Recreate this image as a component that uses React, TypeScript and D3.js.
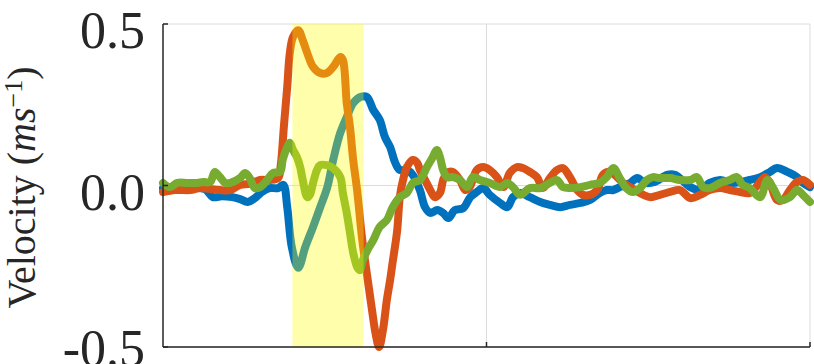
import { useMemo } from "react"
import { scaleLinear, line, curveCatmullRom } from "d3"

// time axis (arbitrary units) and velocity for each of the three traces
const blueT = [0, 1.9, 4.2, 6.5, 7.7, 9.1, 10.7, 11.9, 13.1, 14.2, 15.3, 16.5, 17.8, 18.6, 19.2, 19.9, 20.9, 22.0, 23.2, 24.3, 25.4, 26.3, 27.4, 28.4, 29.4, 30.5, 31.5, 32.5, 33.5, 34.3, 35.1, 35.9, 36.6, 37.7, 38.6, 39.7, 40.5, 41.3, 42.4, 43.3, 44.1, 45.1, 46.4, 47.5, 48.5, 49.5, 50.5, 52.1, 53.2, 54.1, 55.2, 56.7, 58.3, 59.8, 61.4, 62.9, 64.5, 66.0, 67.5, 68.6, 69.6, 70.6, 72.2, 73.3, 74.5, 76.0, 77.9, 79.1, 81.5, 83.0, 84.5, 86.1, 88.1, 90.7, 92.3, 93.8, 94.9, 96.5, 98.0, 98.9, 100]
const blueV = [-0.008, -0.011, -0.008, -0.011, -0.036, -0.033, -0.036, -0.042, -0.051, -0.039, -0.020, -0.008, -0.008, 0.002, -0.067, -0.190, -0.255, -0.190, -0.128, -0.067, -0.005, 0.079, 0.163, 0.212, 0.255, 0.274, 0.274, 0.234, 0.203, 0.150, 0.119, 0.070, 0.048, 0.048, 0.033, -0.014, -0.067, -0.085, -0.076, -0.085, -0.101, -0.076, -0.070, -0.036, -0.020, -0.008, -0.029, -0.054, -0.067, -0.036, -0.023, -0.036, -0.051, -0.060, -0.067, -0.060, -0.054, -0.045, -0.023, -0.014, -0.014, -0.005, 0.008, 0.023, 0.008, 0.011, 0.033, 0.033, -0.005, -0.014, 0.008, 0.017, 0.008, 0.017, 0.026, 0.042, 0.054, 0.042, 0.026, 0.008, -0.005]

const orangeT = [0, 1.9, 4.2, 5.7, 7.3, 8.8, 10.4, 11.9, 13.4, 15.0, 16.5, 17.8, 18.2, 18.7, 19.2, 19.6, 20.1, 20.9, 21.6, 22.3, 23.2, 24.3, 25.3, 26.3, 27.4, 27.8, 28.4, 28.9, 29.4, 30.0, 30.8, 31.6, 32.3, 32.9, 33.4, 34.0, 34.6, 35.1, 35.5, 36.2, 36.6, 37.1, 37.7, 38.6, 39.3, 39.7, 40.5, 41.3, 42.0, 42.8, 43.3, 43.9, 44.8, 45.9, 46.7, 47.4, 48.5, 49.5, 50.5, 51.6, 52.6, 53.6, 54.7, 55.6, 56.7, 57.8, 58.7, 59.8, 60.9, 61.8, 62.9, 64.0, 64.9, 66.0, 67.1, 68.0, 69.1, 70.2, 71.1, 72.2, 73.7, 75.3, 76.8, 78.4, 79.9, 81.5, 83.0, 84.5, 86.1, 87.6, 89.2, 90.7, 92.3, 93.0, 93.8, 94.9, 95.8, 96.9, 98.0, 98.9, 100]
const orangeV = [-0.020, -0.014, -0.014, -0.008, -0.011, -0.014, -0.014, 0.002, 0.005, 0.017, 0.017, 0.023, 0.063, 0.187, 0.305, 0.410, 0.460, 0.481, 0.450, 0.410, 0.367, 0.348, 0.348, 0.367, 0.398, 0.389, 0.255, 0.181, 0.079, -0.014, -0.169, -0.286, -0.385, -0.463, -0.500, -0.447, -0.354, -0.293, -0.237, -0.138, -0.036, 0.017, 0.057, 0.079, 0.070, 0.048, 0.017, -0.014, -0.036, -0.023, 0.017, 0.039, 0.042, 0.017, -0.014, -0.005, 0.048, 0.057, 0.048, 0.026, -0.005, 0.039, 0.057, 0.054, 0.042, 0.026, -0.008, 0.023, 0.048, 0.054, 0.026, -0.014, -0.029, -0.029, -0.014, 0.033, 0.042, 0.026, 0.008, -0.005, -0.023, -0.036, -0.029, -0.020, -0.014, -0.039, -0.029, -0.014, -0.008, -0.014, -0.020, -0.023, 0.011, 0.026, 0.008, -0.045, -0.045, -0.014, 0.011, 0.017, 0.002]

const greenT = [0, 1.1, 2.2, 3.7, 5.3, 6.2, 7.3, 8.0, 8.8, 9.6, 10.4, 11.9, 12.7, 13.4, 14.2, 15.0, 16.1, 17.0, 18.1, 18.5, 19.2, 19.6, 20.1, 20.7, 21.2, 21.6, 22.3, 22.7, 23.2, 23.8, 24.3, 25.3, 26.3, 27.4, 27.8, 28.4, 28.9, 29.4, 30.0, 30.4, 30.9, 31.6, 32.5, 33.5, 34.6, 35.5, 36.6, 37.7, 38.6, 39.7, 40.8, 41.7, 42.3, 42.8, 43.3, 43.9, 44.8, 45.9, 47.0, 47.9, 49.0, 50.5, 52.1, 53.2, 54.1, 55.2, 56.7, 58.3, 59.8, 60.9, 61.8, 62.9, 64.5, 66.0, 67.5, 68.6, 69.6, 70.6, 71.6, 72.6, 73.7, 74.8, 75.7, 76.8, 78.4, 79.9, 81.5, 82.5, 83.5, 84.5, 86.1, 87.6, 88.7, 89.6, 90.7, 92.3, 93.4, 94.3, 95.5, 96.9, 98.0, 98.9, 100]
const greenV = [0.008, -0.005, 0.008, 0.008, 0.008, 0.011, 0.011, 0.042, 0.026, 0.008, 0.008, 0.023, 0.039, 0.023, -0.008, -0.005, 0.017, 0.039, 0.042, 0.079, 0.119, 0.132, 0.110, 0.088, 0.057, 0.017, -0.036, -0.029, 0.008, 0.048, 0.063, 0.063, 0.054, 0.026, -0.023, -0.085, -0.147, -0.209, -0.252, -0.262, -0.231, -0.200, -0.169, -0.128, -0.107, -0.067, -0.036, -0.023, 0.008, 0.017, 0.057, 0.088, 0.110, 0.088, 0.048, 0.026, 0.026, 0.017, -0.005, 0.026, 0.017, 0.008, -0.005, 0.008, -0.005, -0.029, -0.008, -0.008, 0.008, 0.017, -0.005, -0.008, -0.005, 0.002, 0.008, 0.026, 0.054, 0.023, -0.008, -0.020, -0.008, 0.017, 0.026, 0.023, 0.023, 0.017, 0.017, 0.026, -0.005, -0.008, 0.008, 0.017, 0.026, 0.002, -0.008, -0.036, 0.017, -0.008, -0.045, -0.036, -0.014, -0.029, -0.051]

const series = [
  { name: "blue", t: blueT, v: blueV, color: "#0072BD" },
  { name: "orange", t: orangeT, v: orangeV, color: "#D95319" },
  { name: "green", t: greenT, v: greenV, color: "#77AC30" },
]

const yTicks = [0.5, 0.0, -0.5]
const yTickLabels = ["0.5", "0.0", "-0.5"]
const xGrid = [50]
const highlight = [20, 31]

const W = 814
const H = 364
const margin = { left: 163, right: 4, top: 24, bottom: 17 }

const App = () => {
  const x = scaleLinear().domain([0, 100]).range([margin.left, W - margin.right])
  const y = scaleLinear().domain([-0.5, 0.5]).range([H - margin.bottom, margin.top])

  const paths = useMemo(() => {
    const gen = line<[number, number]>()
      .x(d => x(d[0]))
      .y(d => y(d[1]))
      .curve(curveCatmullRom.alpha(0.5))
    return series.map(s => ({ ...s, d: gen(s.t.map((t, i) => [t, s.v[i]] as [number, number])) }))
  }, [])

  const [x0, x1] = x.range()
  const [y0, y1] = y.range()
  const font = "'Liberation Serif', 'DejaVu Serif', serif"

  return (
    <svg width={W} height={H} style={{ position: "absolute", left: 0, top: 0, background: "#fff" }}>
      {/* grid */}
      <g stroke="#dcdcdc" strokeWidth={1}>
        {yTicks.map(t => <line key={t} x1={x0} x2={x1} y1={y(t)} y2={y(t)} />)}
        {xGrid.map(t => <line key={t} x1={x(t)} x2={x(t)} y1={y1} y2={y0} />)}
        <line x1={x1} x2={x1} y1={y1} y2={y0} />
      </g>

      {/* traces */}
      <g fill="none" strokeWidth={8} strokeLinejoin="round" strokeLinecap="round">
        {paths.map(p => <path key={p.name} d={p.d ?? ""} stroke={p.color} />)}
      </g>

      {/* highlighted window, drawn over the traces */}
      <rect x={x(highlight[0])} y={y1} width={x(highlight[1]) - x(highlight[0])} height={y0 - y1}
        fill="#ffff00" fillOpacity={0.33} />

      {/* axes */}
      <g stroke="#262626" strokeWidth={1.5} fill="none">
        <line x1={x0} x2={x0} y1={y1} y2={y0} />
        <line x1={x0} x2={x1} y1={y0} y2={y0} />
        {yTicks.map(t => <line key={t} x1={x0} x2={x0 + 5} y1={y(t)} y2={y(t)} />)}
        {[...xGrid, 100].map(t => <line key={t} x1={x(t)} x2={x(t)} y1={y0} y2={y0 - 5} />)}
      </g>

      <g fontFamily={font} fontSize={52} fill="#262626" textAnchor="end">
        {yTicks.map((t, i) => (
          <text key={t} x={x0 - 18} y={Math.min(Math.max(y(t) + 24, 38), H + 2)}>{yTickLabels[i]}</text>
        ))}
      </g>

      <text transform={`translate(35, ${(y0 + y1) / 2 + 2}) rotate(-90)`} textAnchor="middle"
        fontFamily={font} fontSize={40} fill="#262626">
        Velocity (<tspan fontStyle="italic">ms</tspan>
        <tspan fontSize={26} dy={-13}>−1</tspan>
        <tspan dy={13}>)</tspan>
      </text>
    </svg>
  )
}

export default App
